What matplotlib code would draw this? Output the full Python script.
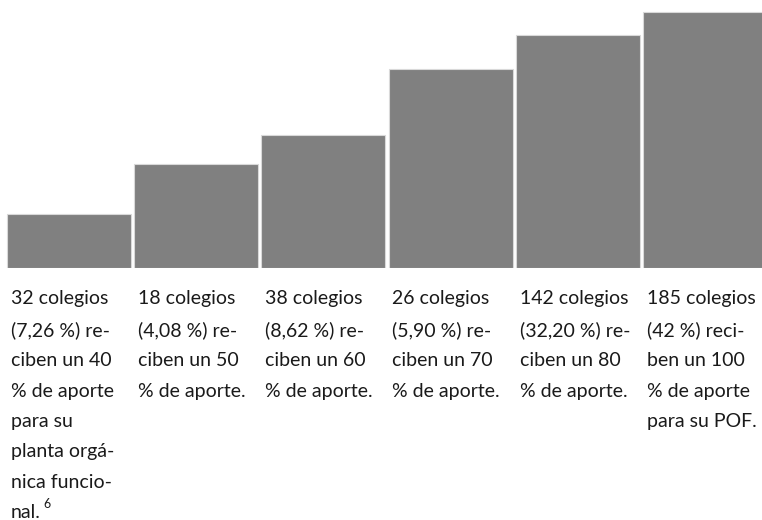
import matplotlib
matplotlib.use("Agg")
import matplotlib.pyplot as plt
import matplotlib.transforms as mtransforms

# share of contribution each group receives
aporte = ["40 %", "50 %", "60 %", "70 %", "80 %", "100 %"]
# bar heights
alturas = [54, 104, 133, 199, 233, 256]
etiquetas = [
    "32 colegios\n(7,26 %) re-\nciben un 40\n% de aporte\npara su\nplanta orgá-\nnica funcio-\nnal.",
    "18 colegios\n(4,08 %) re-\nciben un 50\n% de aporte.",
    "38 colegios\n(8,62 %) re-\nciben un 60\n% de aporte.",
    "26 colegios\n(5,90 %) re-\nciben un 70\n% de aporte.",
    "142 colegios\n(32,20 %) re-\nciben un 80\n% de aporte.",
    "185 colegios\n(42 %) reci-\nben un 100\n% de aporte\npara su POF.",
]
nota = "6"

plt.rcParams['font.family'] = ['Lato', 'DejaVu Sans']

fig = plt.figure(figsize=(7.62, 5.2), dpi=100)
ax = fig.add_axes([0, 1 - 268 / 520, 1, 268 / 520])

x = list(range(len(alturas)))
w = 0.975
ax.bar(x, alturas, width=w, color="#808080", edgecolor="#d9d9d9", linewidth=0.8)
ax.set_xlim(-0.540, 5.445)
ax.set_ylim(0, 268)
ax.axis("off")

trans = mtransforms.blended_transform_factory(ax.transData, fig.transFigure)
textos = []
for i, t in enumerate(etiquetas):
    textos.append(ax.text(i - w / 2 + 0.03, 1 - 290 / 520, t, transform=trans, ha="left", va="top",
                          fontsize=14, color="#1a1a1a", linespacing=1.95))

# footnote mark after "nal."
ax.annotate(nota, xy=(0, 0), xycoords=textos[0], xytext=(23.5, 8), textcoords="offset points",
            ha="left", va="bottom", fontsize=9, color="#1a1a1a")

fig.savefig("out.png", dpi=100)
